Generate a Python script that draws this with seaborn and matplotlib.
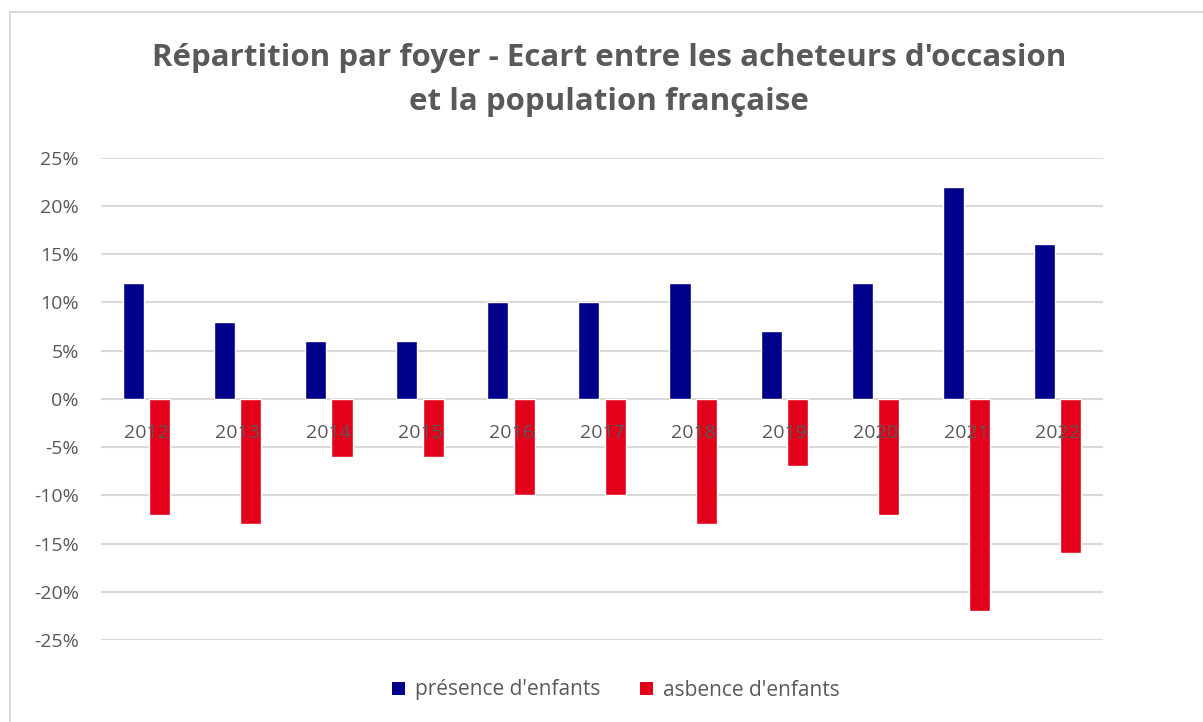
import numpy as np
import pandas as pd
import matplotlib
matplotlib.use('Agg')
import matplotlib.pyplot as plt
from matplotlib.lines import Line2D
from matplotlib.patches import Patch
from matplotlib.ticker import FuncFormatter
import seaborn as sns

# donnees
annees = ['2012', '2013', '2014', '2015', '2016', '2017', '2018', '2019', '2020', '2021', '2022']
presence = [0.12, 0.08, 0.06, 0.06, 0.10, 0.10, 0.12, 0.07, 0.12, 0.22, 0.16]
absence = [-0.12, -0.13, -0.06, -0.06, -0.10, -0.10, -0.13, -0.07, -0.12, -0.22, -0.16]
series = ["présence d'enfants", "asbence d'enfants"]
couleurs = ['#00008B', '#E2001A']
titre = ["Répartition par foyer - Ecart entre les acheteurs d'occasion",
         "et la population française"]

df = pd.DataFrame({
    'annee': annees * 2,
    'valeur': presence + absence,
    'serie': [series[0]] * len(annees) + [series[1]] * len(annees),
})

sns.set_theme(style='white')
plt.rcParams['font.family'] = ['Open Sans', 'DejaVu Sans']
gris = '#595959'

W, H = 1203, 722
fig = plt.figure(figsize=(W / 100, H / 100), dpi=100)
ax = fig.add_axes([0.084, 0.1136, 0.833, 0.668])

sns.barplot(data=df, x='annee', y='valeur', hue='serie', hue_order=series,
            palette=couleurs, saturation=1, width=0.58, gap=0.2,
            ax=ax, legend=False)

ax.set_ylim(-0.25, 0.25)
ax.set_xlim(-0.5, len(annees) - 0.5)
ax.set_yticks(np.arange(-0.25, 0.2501, 0.05))
ax.yaxis.set_major_formatter(FuncFormatter(lambda v, p: f'{round(v * 100):d}%'))
ax.grid(axis='y', color='#d9d9d9', linewidth=1.5)
ax.set_axisbelow(True)
ax.xaxis.set_zorder(3)

for s in ax.spines.values():
    s.set_visible(False)
ax.spines['bottom'].set_position(('data', 0))

ax.tick_params(axis='both', length=0, colors=gris, labelsize=14)
ax.tick_params(axis='x', pad=18)
ax.tick_params(axis='y', pad=16)
ax.set_xlabel('')
ax.set_ylabel('')

# titre sur deux lignes
for ligne, ypix in zip(titre, [58, 102]):
    fig.text(0.506, 1 - ypix / H, ligne, ha='center', va='center',
             fontsize=22.5, fontweight='bold', color=gris)

handles = [Patch(facecolor=c, edgecolor='none') for c in couleurs]
fig.legend(handles, series, loc='center', bbox_to_anchor=(0.512, 1 - 690 / H), ncol=2,
           frameon=False, fontsize=15, labelcolor=gris, handlelength=0.6,
           handleheight=0.6, handletextpad=0.5, columnspacing=1.9)

# bordure de la zone de graphique
fig.add_artist(Line2D([10 / W, 1], [1 - 12 / H, 1 - 12 / H], color='#d9d9d9', linewidth=1.5))
fig.add_artist(Line2D([10 / W, 10 / W], [0, 1 - 12 / H], color='#d9d9d9', linewidth=1.5))

fig.savefig('out.png', dpi=100, facecolor='white')
